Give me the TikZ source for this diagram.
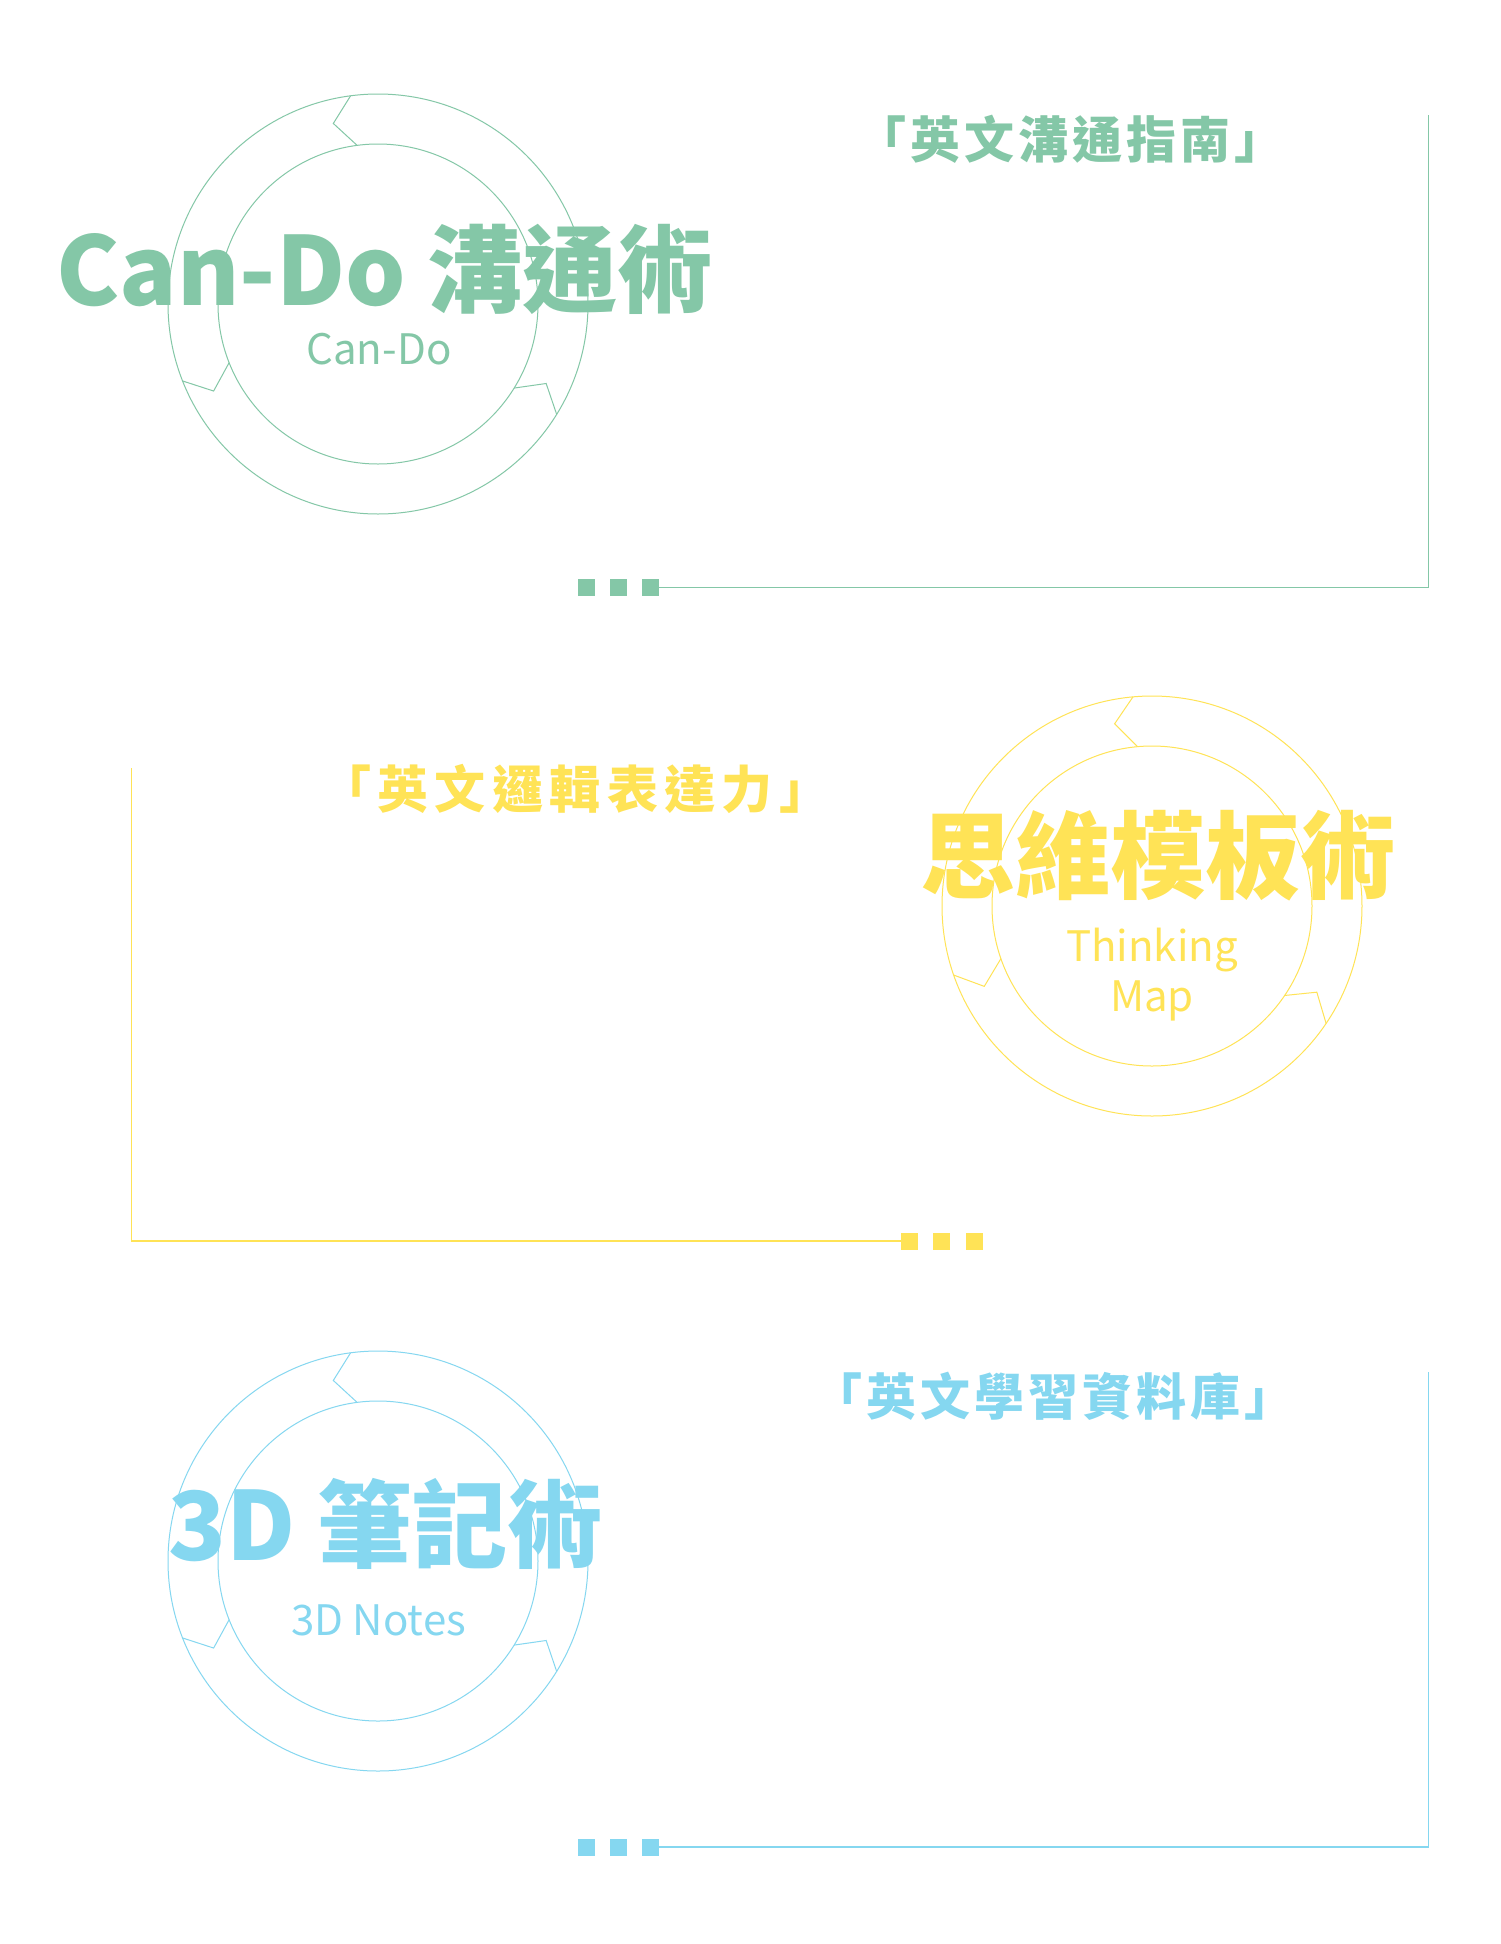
\documentclass[tikz,border=0pt]{standalone}
\usepackage{fontspec}
\usetikzlibrary{calc}
\newfontfamily\cjk{Noto Sans CJK TC}
\newfontfamily\cjkls{Noto Sans CJK TC}[LetterSpace=8]
\newfontfamily\cjklsw{Noto Sans CJK TC}[LetterSpace=12.5]
\definecolor{cgreen}{HTML}{84C7A7}
\definecolor{cyellow}{HTML}{FFE356}
\definecolor{cblue}{HTML}{85D7F0}
\newcommand\ringdraw[3]{%
  \draw[ringline,#3] (#1) circle[radius=210pt];
  \draw[ringline,#3] (#1) circle[radius=160pt];
  \foreach \a in {96.4,200.4,327.2}{%
    \draw[ringline,#3] ($(#1)+({\a+#2}:210pt)$) -- ($(#1)+({\a+#2+6.4}:186pt)$) -- ($(#1)+({\a+#2}:160pt)$);
  }%
}
\begin{document}
\begin{tikzpicture}[x=1pt,y=-1pt,
  ringline/.style={line width=1pt},
  brk/.style={line width=1.5pt},
  bigtitle/.style={font=\cjk\bfseries\fontsize{95}{100}\selectfont, inner sep=0pt, anchor=base west},
  subt/.style={font=\cjk\fontsize{42}{50}\selectfont, inner sep=0pt, anchor=base},
  head/.style={font=\cjkls\bfseries\fontsize{50}{56}\selectfont, inner sep=0pt, anchor=base west},
  headw/.style={font=\cjklsw\bfseries\fontsize{51}{56}\selectfont, inner sep=0pt, anchor=base west},
  sq/.style={fill, minimum size=17pt, inner sep=0pt, outer sep=0pt}]
\useasboundingbox[fill=white] (0,0) rectangle (1500,1944);

% ---------- section 1 (green) ----------
\coordinate (c1) at (378,304);
\ringdraw{c1}{1.1}{cgreen}
\node[bigtitle, cgreen] (t1) at (56,305) {Can-Do 溝通術};
\node[subt, cgreen] (s1) at (379,364) {Can-Do};
\node[head, cgreen] (h1) at (856,158) {「英文溝通指南」};
\node[sq, cgreen] (g1) at (586.5,587.5) {};
\node[sq, cgreen] (g2) at (618.5,587.5) {};
\node[sq, cgreen] (g3) at (650.5,587.5) {};
\coordinate (gtop) at (1428.5,115);
\coordinate (gcorner) at (1428.5,587.5);
\draw[brk, cgreen] (gtop) -- (gcorner) -- (g3.east);

% ---------- section 2 (yellow) ----------
\coordinate (c2) at (1152,906);
\ringdraw{c2}{-1.2}{cyellow}
\node[bigtitle, cyellow] (t2) at (920,891) {思維模板術};
\node[subt, cyellow] (s2a) at (1152,961) {Thinking};
\node[subt, cyellow] (s2b) at (1152,1011) {Map};
\node[headw, cyellow] (h2) at (320,808) {「英文邏輯表達力」};
\node[sq, cyellow] (y1) at (909.5,1241) {};
\node[sq, cyellow] (y2) at (941.5,1241) {};
\node[sq, cyellow] (y3) at (974,1241) {};
\coordinate (ytop) at (131.6,768);
\coordinate (ycorner) at (131.6,1241);
\draw[brk, cyellow] (ytop) -- (ycorner) -- (y1.west);

% ---------- section 3 (blue) ----------
\coordinate (c3) at (378,1561);
\ringdraw{c3}{1.1}{cblue}
\node[bigtitle, cblue] (t3) at (168,1560) {3D 筆記術};
\node[subt, cblue] (s3) at (378.5,1635) {3D Notes};
\node[head, cblue] (h3) at (812,1415) {「英文學習資料庫」};
\node[sq, cblue] (b1) at (586.5,1847) {};
\node[sq, cblue] (b2) at (618.5,1847) {};
\node[sq, cblue] (b3) at (650.5,1847) {};
\coordinate (btop) at (1428.5,1372);
\coordinate (bcorner) at (1428.5,1847);
\draw[brk, cblue] (btop) -- (bcorner) -- (b3.east);
\end{tikzpicture}
\end{document}
